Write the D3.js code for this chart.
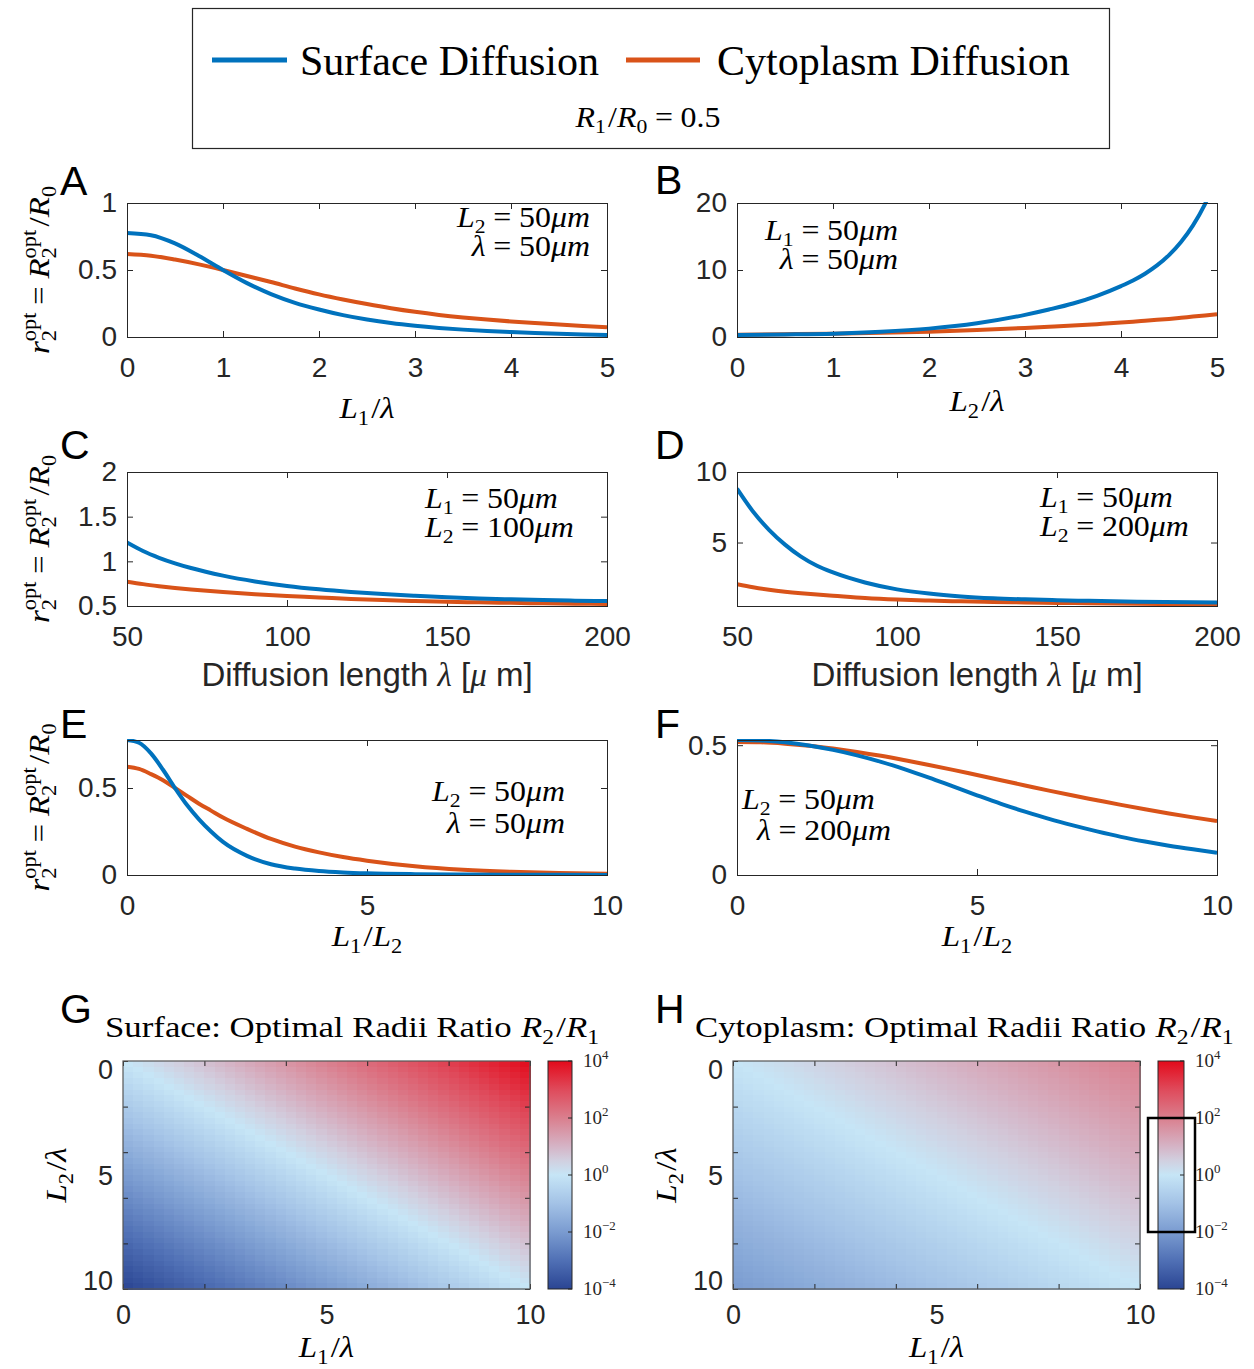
<!DOCTYPE html>
<html><head><meta charset="utf-8">
<script src="https://cdn.jsdelivr.net/npm/d3@7"></script>
<style>body{margin:0;background:#fff;}</style>
</head><body>
<svg id="fig" width="1254" height="1369"></svg>
<script>
// ---------------- DATA ----------------
const seriesNames = ["Surface Diffusion", "Cytoplasm Diffusion"];
const seriesColors = ["#0072BD", "#D95319"];

// Panel A: r2opt vs L1/lambda (L2 = 50um, lambda = 50um)
const A_x = [0,0.25,0.5,0.75,1,1.25,1.5,1.75,2,2.25,2.5,2.75,3,3.25,3.5,3.75,4,4.25,4.5,4.75,5];
const A_surface = [0.776,0.760,0.699,0.605,0.50,0.402,0.32,0.255,0.205,0.163,0.13,0.104,0.084,0.068,0.055,0.045,0.037,0.030,0.024,0.019,0.015];
const A_cytoplasm = [0.62,0.607,0.578,0.542,0.50,0.455,0.41,0.362,0.318,0.28,0.246,0.215,0.188,0.165,0.146,0.13,0.116,0.104,0.093,0.082,0.072];

// Panel B: r2opt vs L2/lambda (L1 = 50um, lambda = 50um)
const B_x = [0,0.5,1,1.5,2,2.5,3,3.25,3.5,3.75,4,4.125,4.25,4.375,4.5,4.625,4.75,4.875,5];
const B_surface = [0.3,0.38,0.5,0.78,1.25,2.05,3.3,4.1,5.0,6.15,7.6,8.44,9.45,10.68,12.23,14.19,16.67,19.84,23.9];
const B_cytoplasm = [0.35,0.42,0.5,0.62,0.8,1.05,1.35,1.52,1.7,1.92,2.15,2.28,2.42,2.56,2.7,2.87,3.05,3.22,3.4];

// Panel C: r2opt vs diffusion length (L1 = 50um, L2 = 100um)
const C_x = [50,55,60,65,70,80,90,100,110,120,130,140,150,160,170,180,190,200];
const C_surface = [1.21,1.115,1.04,0.978,0.925,0.84,0.775,0.725,0.687,0.657,0.633,0.614,0.598,0.585,0.575,0.567,0.56,0.555];
const C_cytoplasm = [0.773,0.745,0.722,0.702,0.685,0.656,0.632,0.612,0.596,0.578,0.566,0.556,0.548,0.541,0.535,0.53,0.526,0.522];

// Panel D: r2opt vs diffusion length (L1 = 50um, L2 = 200um)
const D_x = [50,55,60,65,70,75,80,90,100,110,120,130,140,150,160,175,200];
const D_surface = [8.82,7.2,5.9,4.85,4.0,3.35,2.88,2.17,1.68,1.38,1.18,1.05,0.97,0.91,0.865,0.81,0.75];
const D_cytoplasm = [2.05,1.83,1.65,1.51,1.40,1.31,1.23,1.07,0.96,0.885,0.83,0.785,0.75,0.72,0.695,0.66,0.61];

// Panel E: r2opt vs L1/L2 (L2 = 50um, lambda = 50um)
const E_x = [0,0.25,0.5,0.75,1,1.25,1.5,1.75,2,2.5,3,3.5,4,4.5,5,6,7,8,9,10];
const E_surface = [0.776,0.760,0.699,0.605,0.50,0.402,0.32,0.25,0.19,0.11,0.062,0.037,0.023,0.015,0.01,0.005,0.0028,0.0017,0.001,0.0006];
const E_cytoplasm = [0.623,0.61,0.58,0.545,0.50,0.455,0.41,0.37,0.33,0.265,0.207,0.163,0.13,0.103,0.082,0.05,0.03,0.018,0.011,0.007];

// Panel F: r2opt vs L1/L2 (L2 = 50um, lambda = 200um)
const F_x = [0,0.5,1,1.5,2,2.5,3,3.5,4,4.5,5,5.5,6,6.5,7,7.5,8,8.5,9,9.5,10];
const F_surface = [0.52,0.518,0.511,0.499,0.482,0.461,0.436,0.407,0.375,0.341,0.307,0.274,0.244,0.216,0.191,0.168,0.147,0.129,0.113,0.099,0.086];
const F_cytoplasm = [0.512,0.511,0.506,0.498,0.487,0.474,0.459,0.442,0.424,0.405,0.385,0.365,0.345,0.325,0.306,0.288,0.27,0.253,0.237,0.222,0.208];

// Panels G/H: log10(R2/R1) along the cross-diagonal, indexed by (L1 - L2)/lambda = -10 ... 10 step 0.25
const heatD = [-10,-9.75,-9.5,-9.25,-9,-8.75,-8.5,-8.25,-8,-7.75,-7.5,-7.25,-7,-6.75,-6.5,-6.25,-6,-5.75,-5.5,-5.25,-5,-4.75,-4.5,-4.25,-4,-3.75,-3.5,-3.25,-3,-2.75,-2.5,-2.25,-2,-1.75,-1.5,-1.25,-1,-0.75,-0.5,-0.25,0,0.25,0.5,0.75,1,1.25,1.5,1.75,2,2.25,2.5,2.75,3,3.25,3.5,3.75,4,4.25,4.5,4.75,5,5.25,5.5,5.75,6,6.25,6.5,6.75,7,7.25,7.5,7.75,8,8.25,8.5,8.75,9,9.25,9.5,9.75,10];
const G_logRatio = [-4.0,-3.9,-3.8,-3.7,-3.6,-3.5,-3.4,-3.3,-3.2,-3.1,-3.0,-2.9,-2.8,-2.7,-2.6,-2.5,-2.4,-2.3,-2.2,-2.1,-2.0,-1.9,-1.8,-1.7,-1.6,-1.5,-1.4,-1.3,-1.2,-1.1,-1.0,-0.9,-0.8,-0.7,-0.6,-0.5,-0.4,-0.3,-0.2,-0.1,0,0.1,0.2,0.3,0.4,0.5,0.6,0.7,0.8,0.9,1.0,1.1,1.2,1.3,1.4,1.5,1.6,1.7,1.8,1.9,2.0,2.1,2.2,2.3,2.4,2.5,2.6,2.7,2.8,2.9,3.0,3.1,3.2,3.3,3.4,3.5,3.6,3.7,3.8,3.9,4.0];
const H_logRatio = [-2.0,-1.95,-1.9,-1.85,-1.8,-1.75,-1.7,-1.65,-1.6,-1.55,-1.5,-1.45,-1.4,-1.35,-1.3,-1.25,-1.2,-1.15,-1.1,-1.05,-1.0,-0.95,-0.9,-0.85,-0.8,-0.75,-0.7,-0.65,-0.6,-0.55,-0.5,-0.45,-0.4,-0.35,-0.3,-0.25,-0.2,-0.15,-0.1,-0.05,0,0.05,0.1,0.15,0.2,0.25,0.3,0.35,0.4,0.45,0.5,0.55,0.6,0.65,0.7,0.75,0.8,0.85,0.9,0.95,1.0,1.05,1.1,1.15,1.2,1.25,1.3,1.35,1.4,1.45,1.5,1.55,1.6,1.65,1.7,1.75,1.8,1.85,1.9,1.95,2.0];
const H_range = [-2, 2];
const cbarTicks = [-4,-2,0,2,4];
const cmapStops = [-4,-3,-2,-1,0,0.5,1,2,3,4];
const cmapColors = ["#2a4593","#5070b5","#7a9bd0","#a3c2e6","#c6e5f6","#d1d0e0","#d5b4c6","#da7f8e","#df4a5b","#e30a1b"];

// ---------------- RENDER ----------------
const SERIF = "'Liberation Serif','Times New Roman',serif";
const SANS = "'Liberation Sans',Arial,Helvetica,sans-serif";
const AX = "#262626";
const HS = 1.1; // horizontal stretch for math-style serif text
const svg = d3.select("#fig");

const I = (t, dx) => ({t, i:true, dx});
const R = t => ({t});
const SUB = t => ({t, sub:true});
const SUP = t => ({t, sup:true, stack:true});
const EQ = v => [{t:"=", dx:7}, {t:v, dx:7}];
const SL = [{t:"/", dx:2}];

// lines: [{x, y, parts}] ; multi-line text as one element
function mtext(g, lines, o = {}) {
  const size = o.size || 28;
  const hs = o.hs || 1;
  const px = lines[0].x, py = lines[0].y;
  const t = g.append("text")
    .attr("font-family", o.family || SERIF).attr("font-size", size)
    .attr("fill", o.fill || "#000").attr("text-anchor", o.anchor || "start");
  let tr = "";
  if (o.rotate) tr += `rotate(-90,${px},${py}) `;
  if (hs !== 1) tr += `translate(${px},${py}) scale(${hs},1) translate(${-px},${-py})`;
  if (tr) t.attr("transform", tr);
  lines.forEach(L => {
    let cur = 0, lastLen = 0, first = true;
    for (const p of L.parts) {
      const ts = t.append("tspan").text(p.t);
      if (first) { ts.attr("x", px + (L.x - px) / hs).attr("y", L.y); }
      const small = p.sub || p.sup;
      ts.attr("font-size", small ? size * 0.68 : size);
      if (p.i) ts.attr("font-style", "italic");
      if (p.f) ts.attr("font-family", p.f);
      const target = p.sub ? size * 0.22 : p.sup ? -size * 0.42 : 0;
      if (target !== cur) { ts.attr("dy", target - cur); cur = target; }
      let dx = p.dx || 0;
      if (p.stack) dx -= lastLen;
      if (dx && !first) ts.attr("dx", dx);
      if (p.sub) lastLen = ts.node().getComputedTextLength();
      first = false;
    }
  });
  return t;
}

// Legend
const leg = svg.append("g");
leg.append("rect").attr("x", 192.5).attr("y", 8.5).attr("width", 917).attr("height", 140)
  .attr("fill", "#fff").attr("stroke", AX).attr("stroke-width", 1.2);
const legX = [[212, 287, 300], [626, 700, 717]];
seriesNames.forEach((n, k) => {
  leg.append("line").attr("x1", legX[k][0]).attr("x2", legX[k][1]).attr("y1", 60).attr("y2", 60)
    .attr("stroke", seriesColors[k]).attr("stroke-width", 5);
  leg.append("text").attr("x", legX[k][2]).attr("y", 75).attr("font-family", SERIF)
    .attr("font-size", 42).attr("fill", "#000").text(n);
});
mtext(leg, [{x:648, y:127, parts:[I("R"), SUB("1"), ...SL, I("R"), SUB("0"), ...EQ("0.5")]}], {size: 29, anchor: "middle", hs: HS});

const yLabelParts = [I("r"), SUB("2"), SUP("opt"), {t:"=", dx:7}, I("R", 7), SUB("2"), SUP("opt"), {t:"/", dx:3}, I("R"), SUB("0")];
const lambdaLabel = [R("Diffusion length "), {t:"λ", i:true, f:SERIF}, R(" ["), {t:"μ", i:true, f:SERIF}, R(" m]")];
const um = I("μm");

const panels = [
  {id:"A", box:[127,203,607,337], xd:[0,5], yd:[0,1], xt:[0,1,2,3,4,5], yt:[0,0.5,1], x:A_x, s:A_surface, c:A_cytoplasm,
   lp:[60,195], ylab:true, xlab:{parts:[I("L"),SUB("1"),...SL,I("λ")], y:418},
   anchor:"end", notes:[{parts:[I("L"),SUB("2"),...EQ("50"),um], x:590, y:227},{parts:[I("λ"),...EQ("50"),um], x:590, y:256}]},
  {id:"B", box:[737,203,1217,337], xd:[0,5], yd:[0,20], xt:[0,1,2,3,4,5], yt:[0,10,20], x:B_x, s:B_surface, c:B_cytoplasm,
   lp:[655,194], xlab:{parts:[I("L"),SUB("2"),...SL,I("λ")], y:411},
   anchor:"end", notes:[{parts:[I("L"),SUB("1"),...EQ("50"),um], x:898, y:240},{parts:[I("λ"),...EQ("50"),um], x:898, y:269}]},
  {id:"C", box:[127,472,607,606], xd:[50,200], yd:[0.5,2], xt:[50,100,150,200], yt:[0.5,1,1.5,2], x:C_x, s:C_surface, c:C_cytoplasm,
   lp:[60,459], ylab:true, xlab:{parts:lambdaLabel, y:686, sans:true},
   anchor:"start", notes:[{parts:[I("L"),SUB("1"),...EQ("50"),um], x:425, y:508},{parts:[I("L"),SUB("2"),...EQ("100"),um], x:425, y:537}]},
  {id:"D", box:[737,472,1217,606], xd:[50,200], yd:[0.5,10], xt:[50,100,150,200], yt:[5,10], x:D_x, s:D_surface, c:D_cytoplasm,
   lp:[655,459], xlab:{parts:lambdaLabel, y:686, sans:true},
   anchor:"start", notes:[{parts:[I("L"),SUB("1"),...EQ("50"),um], x:1040, y:507},{parts:[I("L"),SUB("2"),...EQ("200"),um], x:1040, y:536}]},
  {id:"E", box:[127,740,607,875], xd:[0,10], yd:[0,0.776], xt:[0,5,10], yt:[0,0.5], x:E_x, s:E_surface, c:E_cytoplasm,
   lp:[60,738], ylab:true, xlab:{parts:[I("L"),SUB("1"),...SL,I("L"),SUB("2")], y:946},
   anchor:"end", notes:[{parts:[I("L"),SUB("2"),...EQ("50"),um], x:565, y:801},{parts:[I("λ"),...EQ("50"),um], x:565, y:833}]},
  {id:"F", box:[737,740,1217,875], xd:[0,10], yd:[0,0.52], xt:[0,5,10], yt:[0,0.5], x:F_x, s:F_surface, c:F_cytoplasm,
   lp:[655,738], xlab:{parts:[I("L"),SUB("1"),...SL,I("L"),SUB("2")], y:946},
   anchor:"start", notes:[{parts:[I("L"),SUB("2"),...EQ("50"),um], x:742, y:809},{parts:[I("λ"),...EQ("200"),um], x:757, y:840}]}
];

function styleAxis(g, size) {
  g.select(".domain").remove();
  g.selectAll("line").attr("stroke", AX).attr("stroke-width", 1);
  g.selectAll("text").attr("font-family", SANS).attr("font-size", size || 28).attr("fill", AX);
}

panels.forEach(P => {
  const [x0, y0, x1, y1] = P.box;
  const g = svg.append("g");
  const x = d3.scaleLinear().domain(P.xd).range([x0, x1]);
  const y = d3.scaleLinear().domain(P.yd).range([y1, y0]);
  const fmt = d3.format("");
  g.append("g").attr("transform", `translate(0,${y1})`)
    .call(d3.axisBottom(x).tickValues(P.xt).tickFormat(fmt).tickSizeInner(-6).tickSizeOuter(0).tickPadding(20))
    .call(a => styleAxis(a));
  g.append("g").attr("transform", `translate(0,${y0})`)
    .call(d3.axisTop(x).tickValues(P.xt).tickFormat("").tickSizeInner(-6).tickSizeOuter(0))
    .call(a => styleAxis(a));
  g.append("g").attr("transform", `translate(${x0},0)`)
    .call(d3.axisLeft(y).tickValues(P.yt).tickFormat(fmt).tickSizeInner(-6).tickSizeOuter(0).tickPadding(10))
    .call(a => styleAxis(a));
  g.append("g").attr("transform", `translate(${x1},0)`)
    .call(d3.axisRight(y).tickValues(P.yt).tickFormat("").tickSizeInner(-6).tickSizeOuter(0))
    .call(a => styleAxis(a));
  const cid = "clip" + P.id;
  g.append("clipPath").attr("id", cid).append("rect")
    .attr("x", x0).attr("y", y0 - 1).attr("width", x1 - x0).attr("height", y1 - y0 + 2);
  const line = d3.line().x(d => x(d[0])).y(d => y(d[1])).curve(d3.curveMonotoneX);
  [P.c, P.s].forEach((vals, k) => {
    const col = k === 0 ? seriesColors[1] : seriesColors[0];
    g.append("path").attr("clip-path", `url(#${cid})`)
      .attr("d", line(P.x.map((v, i) => [v, vals[i]])))
      .attr("fill", "none").attr("stroke", col).attr("stroke-width", 4).attr("stroke-linejoin", "round");
  });
  g.append("rect").attr("x", x0 + 0.5).attr("y", y0 + 0.5).attr("width", x1 - x0).attr("height", y1 - y0)
    .attr("fill", "none").attr("stroke", AX).attr("stroke-width", 1);
  g.append("text").attr("x", P.lp[0]).attr("y", P.lp[1]).attr("font-family", SANS)
    .attr("font-size", 41).attr("fill", "#000").text(P.id);
  mtext(g, P.notes, {size: 29, anchor: P.anchor, hs: HS});
  if (P.xlab.sans) {
    mtext(g, [{x:(x0 + x1) / 2, y:P.xlab.y, parts:P.xlab.parts}], {size: 33, anchor: "middle", family: SANS, fill: AX});
  } else {
    mtext(g, [{x:(x0 + x1) / 2, y:P.xlab.y, parts:P.xlab.parts}], {size: 30, anchor: "middle", hs: HS});
  }
  if (P.ylab) mtext(g, [{x:49, y:(y0 + y1) / 2, parts:yLabelParts}], {size: 30, anchor: "middle", rotate: true, hs: HS});
});

// ---------------- Heatmaps ----------------
const cmap = d3.scaleLinear().domain(cmapStops).range(cmapColors).interpolate(d3.interpolateRgb).clamp(true);
const defs = svg.append("defs");
const grad = defs.append("linearGradient").attr("id", "cbgrad").attr("x1", 0).attr("y1", 1).attr("x2", 0).attr("y2", 0);
cmapStops.forEach((s, k) => grad.append("stop").attr("offset", (s + 4) / 8).attr("stop-color", cmapColors[k]));

const heats = [
  {id:"G", box:[123,1061,530,1289], cb:[548,1061,572,1289], vals:G_logRatio, title:"Surface: Optimal Radii Ratio", tx:105, lp:[60,1023]},
  {id:"H", box:[733,1061,1140,1289], cb:[1158,1061,1184,1289], vals:H_logRatio, title:"Cytoplasm: Optimal Radii Ratio", tx:695, lp:[655,1023], range:H_range}
];
const nCell = 40, cellStep = 0.25;
heats.forEach(Hm => {
  const [x0, y0, x1, y1] = Hm.box;
  const g = svg.append("g");
  const x = d3.scaleLinear().domain([0, 10]).range([x0, x1]);
  const y = d3.scaleLinear().domain([0, 10]).range([y0, y1]);
  const cells = [];
  for (let i = 0; i < nCell; i++) for (let j = 0; j < nCell; j++) {
    const dIdx = heatD.indexOf((i - j) * cellStep);
    cells.push({l1: i * cellStep, l2: j * cellStep, v: Hm.vals[dIdx]});
  }
  g.append("g").attr("shape-rendering", "crispEdges").selectAll("rect").data(cells).join("rect")
    .attr("x", d => x(d.l1)).attr("y", d => y(d.l2))
    .attr("width", x(cellStep) - x(0) + 0.6).attr("height", y(cellStep) - y(0) + 0.6)
    .attr("fill", d => cmap(d.v));
  const tk = [0,2,4,6,8,10];
  g.append("g").attr("transform", `translate(0,${y1})`).call(d3.axisBottom(x).tickValues(tk).tickFormat("").tickSizeInner(-5).tickSizeOuter(0)).call(a => styleAxis(a));
  g.append("g").attr("transform", `translate(0,${y0})`).call(d3.axisTop(x).tickValues(tk).tickFormat("").tickSizeInner(-5).tickSizeOuter(0)).call(a => styleAxis(a));
  g.append("g").attr("transform", `translate(${x0},0)`).call(d3.axisLeft(y).tickValues(tk).tickFormat("").tickSizeInner(-5).tickSizeOuter(0)).call(a => styleAxis(a));
  g.append("g").attr("transform", `translate(${x1},0)`).call(d3.axisRight(y).tickValues(tk).tickFormat("").tickSizeInner(-5).tickSizeOuter(0)).call(a => styleAxis(a));
  g.append("g").attr("transform", `translate(0,${y1})`).call(d3.axisBottom(x).tickValues([0,5,10]).tickFormat(d3.format("")).tickSize(0).tickPadding(16)).call(a => styleAxis(a, 27));
  const yl = d3.scaleLinear().domain([-0.42, 10.38]).range([y0, y1]);
  g.append("g").attr("transform", `translate(${x0},0)`).call(d3.axisLeft(yl).tickValues([0,5,10]).tickFormat(d3.format("")).tickSize(0).tickPadding(10)).call(a => styleAxis(a, 27));
  g.append("rect").attr("x", x0).attr("y", y0).attr("width", x1 - x0).attr("height", y1 - y0)
    .attr("fill", "none").attr("stroke", "#555").attr("stroke-width", 1.2);
  // colorbar
  const [c0, cy0, c1, cy1] = Hm.cb;
  const cby = d3.scaleLinear().domain([-4, 4]).range([cy1, cy0]);
  g.append("rect").attr("x", c0).attr("y", cy0).attr("width", c1 - c0).attr("height", cy1 - cy0)
    .attr("fill", "url(#cbgrad)").attr("stroke", AX).attr("stroke-width", 1);
  cbarTicks.forEach(t => {
    g.append("line").attr("x1", c1 - 4).attr("x2", c1).attr("y1", cby(t)).attr("y2", cby(t)).attr("stroke", AX);
    mtext(g, [{x:c1 + 11, y:cby(t) + 6, parts:[R("10"), {t: t < 0 ? "−" + Math.abs(t) : String(t), sup: true}]}], {size: 19, fill: AX});
  });
  if (Hm.range) {
    g.append("rect").attr("x", c0 - 10).attr("y", cby(Hm.range[1])).attr("width", c1 - c0 + 21)
      .attr("height", cby(Hm.range[0]) - cby(Hm.range[1])).attr("fill", "none").attr("stroke", "#000").attr("stroke-width", 2.5);
  }
  mtext(g, [{x:Hm.tx, y:1037, parts:[R(Hm.title), {t:"R", i:true, dx:8}, SUB("2"), ...SL, I("R"), SUB("1")]}], {size: 30, hs: 1.16});
  g.append("text").attr("x", Hm.lp[0]).attr("y", Hm.lp[1]).attr("font-family", SANS).attr("font-size", 41).attr("fill", "#000").text(Hm.id);
  mtext(g, [{x:(x0 + x1) / 2, y:1357, parts:[I("L"), SUB("1"), ...SL, I("λ")]}], {size: 30, anchor: "middle", hs: HS});
  mtext(g, [{x:x0 - 57, y:(y0 + y1) / 2, parts:[I("L"), SUB("2"), ...SL, I("λ")]}], {size: 30, anchor: "middle", rotate: true, hs: HS});
});
</script>
</body></html>
